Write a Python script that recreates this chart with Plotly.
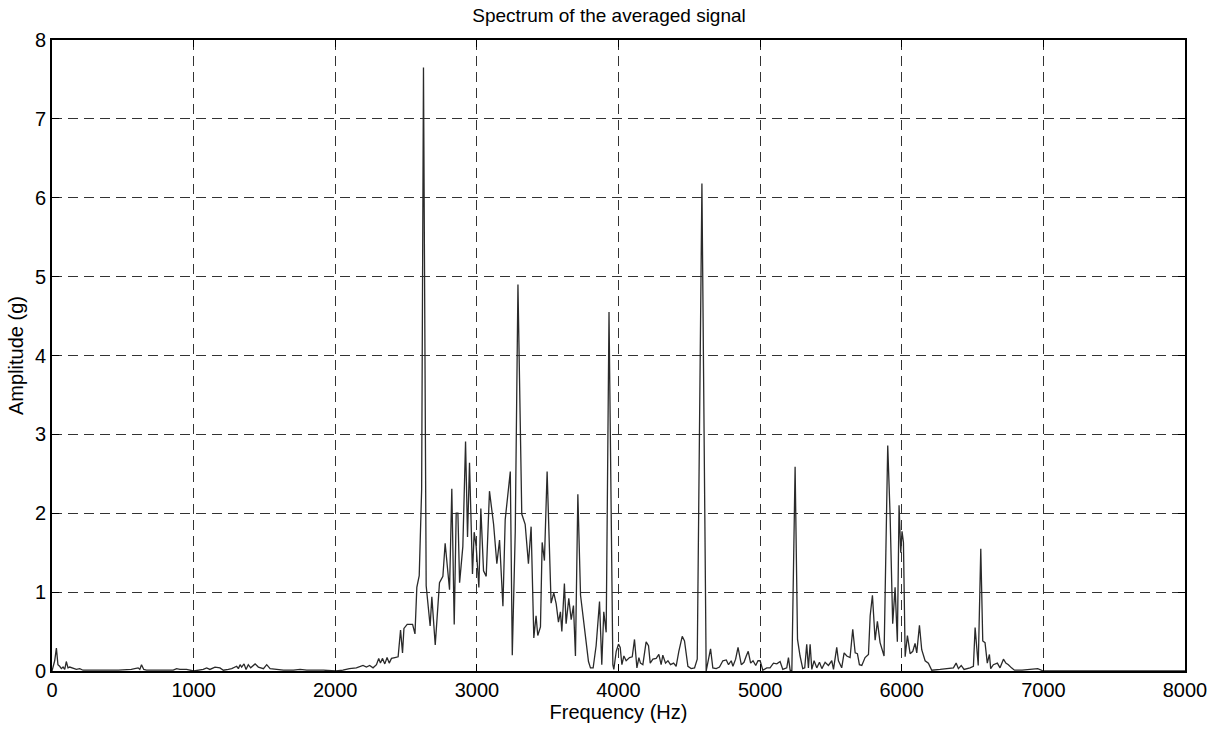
import plotly.graph_objects as go

# Spectrum vertices: frequency (Hz) and amplitude (g)
freq_hz = [
    0, 19, 31, 42, 54, 66, 78, 90, 101, 113, 125, 149, 172, 196, 219, 290, 380, 470,
    560, 600, 608, 620, 632, 648, 667, 760, 856, 880, 903, 950, 1000, 1068, 1092,
    1115, 1151, 1186, 1210, 1245, 1269, 1304, 1316, 1328, 1339, 1356, 1370, 1386,
    1403, 1434, 1457, 1493, 1516, 1540, 1587, 1634, 1705, 1752, 1799, 1917, 2004,
    2054, 2100, 2149, 2196, 2220, 2243, 2267, 2291, 2307, 2319, 2333, 2350, 2366,
    2381, 2397, 2421, 2444, 2461, 2475, 2485, 2508, 2546, 2563, 2576, 2593, 2610,
    2623, 2642, 2670, 2682, 2706, 2736, 2760, 2776, 2807, 2823, 2840, 2854, 2866,
    2878, 2901, 2920, 2934, 2948, 2969, 2981, 2995, 3014, 3028, 3047, 3066, 3089,
    3118, 3141, 3160, 3184, 3200, 3236, 3250, 3271, 3280, 3290, 3317, 3341, 3364,
    3383, 3402, 3418, 3430, 3449, 3461, 3477, 3496, 3524, 3543, 3560, 3576, 3590,
    3600, 3618, 3630, 3649, 3666, 3682, 3696, 3713, 3732, 3760, 3788, 3802, 3821,
    3842, 3866, 3882, 3896, 3913, 3933, 3960, 3967, 3984, 4000, 4012, 4024, 4038,
    4054, 4078, 4097, 4113, 4130, 4144, 4155, 4172, 4195, 4212, 4224, 4243, 4266,
    4285, 4301, 4313, 4332, 4349, 4367, 4389, 4407, 4426, 4450, 4466, 4490, 4513,
    4537, 4556, 4589, 4619, 4636, 4650, 4666, 4690, 4713, 4737, 4761, 4777, 4796,
    4808, 4827, 4844, 4867, 4886, 4902, 4916, 4933, 4950, 4969, 4985, 5000, 5019,
    5047, 5070, 5094, 5118, 5141, 5160, 5188, 5200, 5212, 5224, 5247, 5264, 5282,
    5301, 5315, 5329, 5341, 5353, 5365, 5381, 5400, 5419, 5436, 5459, 5482, 5506,
    5518, 5541, 5553, 5576, 5593, 5612, 5635, 5654, 5671, 5687, 5701, 5718, 5741,
    5765, 5777, 5793, 5812, 5828, 5847, 5875, 5901, 5918, 5936, 5953, 5969, 5981,
    5993, 6002, 6012, 6024, 6040, 6059, 6078, 6094, 6106, 6125, 6141, 6165, 6188,
    6212, 6271, 6318, 6365, 6384, 6400, 6420, 6440, 6482, 6506, 6518, 6540, 6558,
    6572, 6588, 6604, 6619, 6628, 6647, 6675, 6694, 6718, 6735, 6753, 6775, 6796,
    6850, 6900, 6934, 6960, 7000, 8000,
]

amplitude_g = [
    0.0, 0.13, 0.29, 0.08, 0.06, 0.03, 0.05, 0.02, 0.12, 0.04, 0.05, 0.03, 0.02, 0.03, 0.01, 0.01, 0.01, 0.01,
    0.02, 0.03, 0.04, 0.02, 0.08, 0.02, 0.01, 0.01, 0.01, 0.03, 0.02, 0.02, 0.0, 0.02, 0.04,
    0.02, 0.05, 0.04, 0.01, 0.02, 0.03, 0.06, 0.03, 0.08, 0.05, 0.09, 0.02, 0.08,
    0.04, 0.09, 0.05, 0.03, 0.08, 0.03, 0.02, 0.01, 0.01, 0.02, 0.01, 0.01, 0.0,
    0.01, 0.03, 0.04, 0.07, 0.05, 0.07, 0.04, 0.08, 0.16, 0.10, 0.16, 0.09, 0.17,
    0.10, 0.16, 0.17, 0.18, 0.52, 0.23, 0.54, 0.59, 0.59, 0.47, 1.06, 1.21, 2.30,
    7.65, 1.08, 0.57, 0.94, 0.33, 1.12, 1.20, 1.62, 1.03, 2.31, 0.59, 2.00, 2.00,
    1.12, 1.58, 2.91, 1.70, 2.64, 1.23, 1.76, 1.58, 1.06, 2.06, 1.27, 1.20, 2.28,
    1.86, 1.36, 1.66, 0.82, 1.92, 2.53, 0.20, 1.77, 3.30, 4.90, 1.99, 1.86, 1.36,
    1.83, 0.42, 0.70, 0.45, 0.56, 1.63, 1.40, 2.53, 0.86, 0.99, 0.85, 0.62, 0.75,
    0.50, 1.11, 0.60, 0.92, 0.65, 0.83, 0.19, 2.24, 0.96, 0.56, 0.12, 0.04, 0.04,
    0.32, 0.88, 0.08, 0.75, 0.49, 4.55, 0.08, 0.02, 0.25, 0.34, 0.30, 0.08, 0.19,
    0.13, 0.17, 0.18, 0.40, 0.04, 0.17, 0.10, 0.08, 0.37, 0.32, 0.10, 0.15, 0.16,
    0.21, 0.08, 0.20, 0.10, 0.13, 0.08, 0.10, 0.06, 0.25, 0.44, 0.38, 0.06, 0.03,
    0.04, 0.15, 6.18, 0.0, 0.15, 0.28, 0.04, 0.03, 0.05, 0.13, 0.14, 0.08, 0.13,
    0.06, 0.15, 0.30, 0.08, 0.11, 0.19, 0.25, 0.10, 0.13, 0.07, 0.13, 0.13, 0.01,
    0.04, 0.04, 0.10, 0.09, 0.12, 0.02, 0.04, 0.17, 0.01, 0.0, 2.59, 0.40, 0.19,
    0.03, 0.04, 0.34, 0.04, 0.34, 0.02, 0.13, 0.04, 0.11, 0.03, 0.11, 0.07, 0.13,
    0.02, 0.30, 0.13, 0.04, 0.23, 0.19, 0.17, 0.53, 0.23, 0.22, 0.08, 0.07, 0.17,
    0.21, 0.70, 0.96, 0.39, 0.63, 0.36, 0.19, 2.86, 1.96, 0.60, 1.06, 0.37, 2.10,
    1.50, 1.77, 1.63, 0.18, 0.45, 0.22, 0.25, 0.35, 0.23, 0.58, 0.27, 0.13, 0.10,
    0.01, 0.02, 0.03, 0.04, 0.10, 0.03, 0.07, 0.02, 0.04, 0.06, 0.55, 0.07, 1.55,
    0.38, 0.36, 0.10, 0.21, 0.03, 0.08, 0.10, 0.04, 0.15, 0.10, 0.08, 0.04, 0.01,
    0.01, 0.02, 0.02, 0.03, 0.0, 0.0,
]

x_ticks = [0, 1000, 2000, 3000, 4000, 5000, 6000, 7000, 8000]
y_ticks = [0, 1, 2, 3, 4, 5, 6, 7, 8]

FONT = "Liberation Sans, Arial, Helvetica, sans-serif"

fig = go.Figure()
fig.add_trace(go.Scatter(
    x=freq_hz, y=amplitude_g, mode="lines",
    line=dict(color="#2a2a2a", width=1.3),
    showlegend=False, hoverinfo="x+y",
))

axis_common = dict(
    showgrid=True, gridcolor="#333333", gridwidth=1, griddash="10px,6px",
    zeroline=False, showline=True, linecolor="black", linewidth=2,
    mirror="ticks", ticks="inside", ticklen=7, tickwidth=1, tickcolor="black",
    tickfont=dict(family=FONT, size=20, color="black"),
)

fig.update_layout(
    width=1218, height=729,
    margin=dict(l=52, r=33, t=40, b=58),
    paper_bgcolor="white", plot_bgcolor="white",
    font=dict(family=FONT, color="black"),
    title=dict(text="Spectrum of the averaged signal", x=0.5, xanchor="center",
               y=0.988, yanchor="top", font=dict(family=FONT, size=19, color="black")),
    xaxis=dict(range=[0, 8000], tickvals=x_ticks, ticktext=[str(v) for v in x_ticks],
               title=dict(text="Frequency (Hz)", font=dict(family=FONT, size=20), standoff=3),
               **axis_common),
    yaxis=dict(range=[0, 8], tickvals=y_ticks, ticktext=[str(v) for v in y_ticks],
               title=dict(text="Amplitude (g)", font=dict(family=FONT, size=20), standoff=6),
               **axis_common),
)

fig.write_html("out.html")
